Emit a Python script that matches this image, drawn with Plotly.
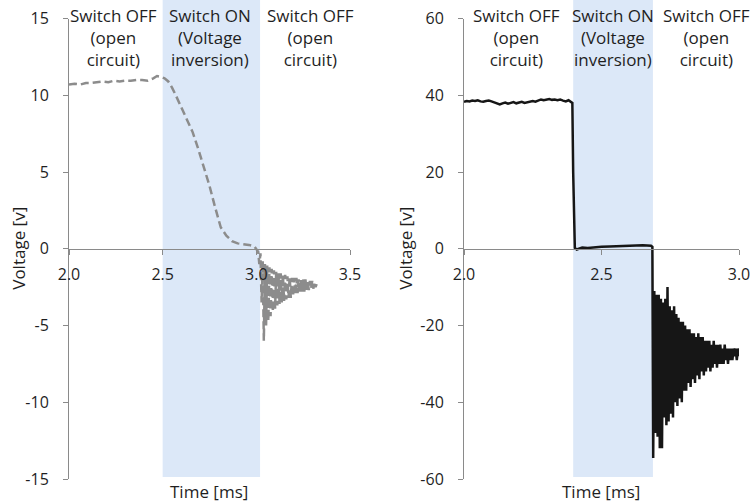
import numpy as np
import plotly.graph_objects as go

# ---------------- left panel: dashed grey trace ----------------
left_t_main = [2.00, 2.03, 2.06, 2.09, 2.12, 2.15, 2.18, 2.21, 2.24, 2.27, 2.30, 2.33,
               2.36, 2.39, 2.42, 2.45, 2.47, 2.49, 2.51, 2.53, 2.55, 2.57, 2.60, 2.63,
               2.66, 2.69, 2.72, 2.75, 2.78, 2.81, 2.84, 2.87, 2.90, 2.93, 2.96, 2.99, 3.01]
left_v_main = [10.7, 10.75, 10.7, 10.8, 10.8, 10.85, 10.9, 10.85, 10.95, 10.9, 10.95, 10.95,
               11.0, 11.0, 10.95, 11.1, 11.25, 11.2, 11.1, 10.9, 10.5, 10.0, 9.2, 8.4,
               7.6, 6.5, 5.3, 4.1, 2.7, 1.4, 0.85, 0.5, 0.35, 0.3, 0.25, 0.15, -0.2]

# ringing after the switch opens (sampled every 6 us from 3.016 ms)
left_ring_t0 = 3.016
left_ring_dt = 0.006
left_v_ring = [-1.0, -0.3, -3.5, -0.8, -6.0, -1.0, -5.0, -1.1, -4.7, -1.2, -4.4, -1.3,
               -4.1, -1.4, -3.9, -1.5, -3.7, -1.6, -3.6, -1.6, -3.5, -1.7, -3.4, -1.7,
               -3.3, -1.8, -3.2, -1.8, -3.2, -1.9, -3.1, -1.9, -3.0, -1.9, -2.9, -2.0,
               -2.9, -2.0, -2.8, -2.0, -2.8, -2.0, -2.7, -2.1, -2.7, -2.1, -2.6, -2.1,
               -2.6, -2.2, -2.5, -2.3]

# ---------------- right panel: solid dark trace ----------------
right_plateau_t0 = 2.00
right_plateau_dt = 0.01
right_v_plateau = [38.3, 38.5, 38.4, 38.6, 38.5, 38.7, 38.4, 38.3, 38.5, 38.6,
                   38.4, 38.2, 38.0, 37.6, 37.9, 38.1, 37.8, 38.0, 38.2, 37.9,
                   38.1, 38.3, 38.0, 38.2, 38.4, 38.5, 38.3, 38.6, 38.9, 38.7,
                   38.8, 39.0, 38.8, 38.9, 38.7, 38.9, 38.6, 38.4, 38.7, 38.2]

right_t_on = [2.394, 2.397, 2.400, 2.403, 2.41, 2.42, 2.43, 2.45, 2.47, 2.50,
              2.53, 2.56, 2.59, 2.62, 2.65, 2.68, 2.685]
right_v_on = [38.0, 20.0, 3.0, 0.2, -0.2, 0.1, 0.3, 0.2, 0.4, 0.5,
              0.6, 0.7, 0.8, 0.8, 0.9, 0.8, 0.5]

# ringing after the switch opens (sampled every 4 us from 2.688 ms)
right_ring_t0 = 2.688
right_ring_dt = 0.004
right_v_ring = [-54.5, -11, -48, -12, -49, -12, -52, -13, -52, -14, -44, -13, -46, -10,
                -45, -15, -43, -16, -44, -15, -40, -17, -41, -18, -39, -19, -40, -19,
                -37, -20, -37, -21, -35, -21, -36, -22, -34, -22, -35, -23, -33, -22,
                -34, -23, -32, -23, -33, -24, -32, -24, -31, -24, -32, -25, -31, -24,
                -30, -25, -31, -25, -30, -25, -30, -26, -30, -25, -29, -26, -30, -26,
                -29, -26, -29, -26, -28, -26, -29, -26, -28]

# phase labels and shaded "switch on" windows
phase_labels = ["Switch OFF<br>(open<br>circuit)",
                "Switch ON<br>(Voltage<br>inversion)",
                "Switch OFF<br>(open<br>circuit)"]
left_label_x = [2.235, 2.753, 3.29]
right_label_x = [2.191, 2.542, 2.882]
left_on_window = [2.5, 3.02]
right_on_window = [2.397, 2.687]

left_xticks = [2.0, 2.5, 3.0, 3.5]
right_xticks = [2.0, 2.5, 3.0]
left_yticks = [-15, -10, -5, 0, 5, 10, 15]
right_yticks = [-60, -40, -20, 0, 20, 40, 60]

# ---------------- assemble series ----------------
left_t = left_t_main + list(np.round(left_ring_t0 + left_ring_dt * np.arange(len(left_v_ring)), 4))
left_v = left_v_main + left_v_ring

right_t = (list(np.round(right_plateau_t0 + right_plateau_dt * np.arange(len(right_v_plateau)), 4))
           + right_t_on
           + list(np.round(right_ring_t0 + right_ring_dt * np.arange(len(right_v_ring)), 4)))
right_v = right_v_plateau + right_v_on + right_v_ring

FONT = "Open Sans"
TXT = "#1f1f1f"
AX = "#8a8a8a"
SHADE = "#dce8f8"

W, H = 756, 504
y_dom = [1 - 479 / H, 1 - 18.5 / H]
y_mid = (y_dom[0] + y_dom[1]) / 2
xl_dom = [69 / W, 350 / W]
xr_dom = [464 / W, 739 / W]

fig = go.Figure()
fig.add_trace(go.Scatter(x=left_t, y=left_v, mode="lines", xaxis="x", yaxis="y",
                         line=dict(color="#8c8c8c", width=2.5, dash="8px,4px"),
                         showlegend=False, hoverinfo="skip"))
fig.add_trace(go.Scatter(x=right_t, y=right_v, mode="lines", xaxis="x2", yaxis="y2",
                         line=dict(color="#161616", width=2.5),
                         showlegend=False, hoverinfo="skip"))

shade_bottom = 1 - 477 / H
shapes = [
    dict(type="rect", xref="x", yref="paper", x0=left_on_window[0], x1=left_on_window[1],
         y0=shade_bottom, y1=1.0, fillcolor=SHADE, line=dict(width=0), layer="below"),
    dict(type="rect", xref="x2", yref="paper", x0=right_on_window[0], x1=right_on_window[1],
         y0=shade_bottom, y1=1.0, fillcolor=SHADE, line=dict(width=0), layer="below"),
]

ann = []
label_y = 1 - 37.5 / H
for xs, xref in ((left_label_x, "x"), (right_label_x, "x2")):
    for xv, txt in zip(xs, phase_labels):
        ann.append(dict(x=xv, y=label_y, xref=xref, yref="paper", text=txt,
                        showarrow=False, xanchor="center", yanchor="middle", align="center",
                        font=dict(family=FONT, size=17, color=TXT)))
for xc in (19 / W, 406 / W):
    ann.append(dict(x=xc, y=y_mid, xref="paper", yref="paper", text="Voltage [v]",
                    textangle=-90, showarrow=False, xanchor="center", yanchor="middle",
                    font=dict(family=FONT, size=17, color=TXT)))
for xc in (208.5 / W, 601 / W):
    ann.append(dict(x=xc, y=1 - 491.5 / H, xref="paper", yref="paper", text="Time [ms]",
                    showarrow=False, xanchor="center", yanchor="middle",
                    font=dict(family=FONT, size=17, color=TXT)))

common_x = dict(showline=True, linecolor=AX, linewidth=1, ticks="outside", ticklen=5,
                tickcolor=AX, showgrid=False, zeroline=False, anchor="free",
                position=y_mid, tickfont=dict(family=FONT, size=16, color=TXT),
                ticklabelstandoff=6, automargin=False)
common_y = dict(showline=True, linecolor=AX, linewidth=1, ticks="outside", ticklen=5,
                tickcolor=AX, showgrid=False, zeroline=False, domain=y_dom,
                tickfont=dict(family=FONT, size=16, color=TXT), ticklabelstandoff=11,
                automargin=False)

fig.update_layout(
    width=W, height=H, margin=dict(l=0, r=0, t=0, b=0, pad=0, autoexpand=False),
    paper_bgcolor="white", plot_bgcolor="rgba(0,0,0,0)",
    xaxis=dict(domain=xl_dom, range=[2.0, 3.5], tickvals=left_xticks,
               ticktext=[f"{v:.1f}" for v in left_xticks], **common_x),
    yaxis=dict(range=[-15, 15], tickvals=left_yticks,
               ticktext=[str(v) for v in left_yticks], anchor="x", **common_y),
    xaxis2=dict(domain=xr_dom, range=[2.0, 3.0], tickvals=right_xticks,
                ticktext=[f"{v:.1f}" for v in right_xticks], **common_x),
    yaxis2=dict(range=[-60, 60], tickvals=right_yticks,
                ticktext=[str(v) for v in right_yticks], anchor="x2", **common_y),
    shapes=shapes, annotations=ann,
)

fig.write_html("out.html")
